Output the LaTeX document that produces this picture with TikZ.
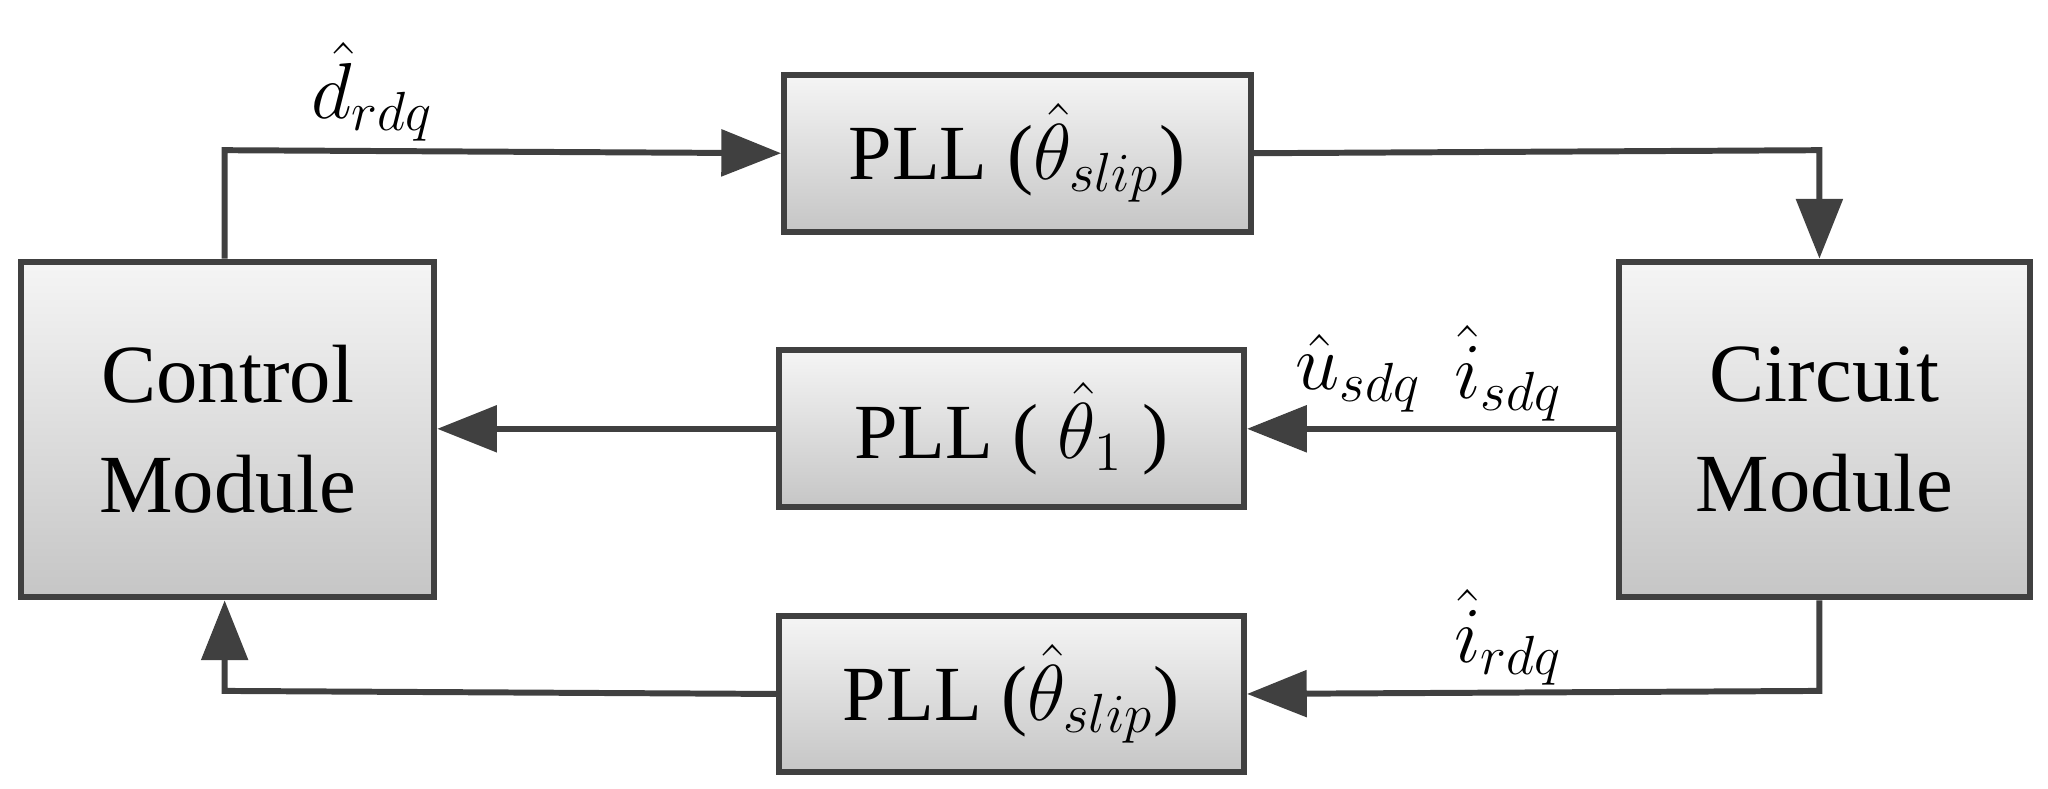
\documentclass[tikz,border=0pt]{standalone}
\usepackage{fontspec}
\setmainfont{Liberation Serif}
\usetikzlibrary{arrows.meta}
\tikzset{
  blk/.style={draw=black!75, line width=1.3pt, top color=gray!8, bottom color=gray!45, inner sep=0pt},
  con/.style={draw=black!75, line width=1.3pt, -{Triangle[length=13pt,width=10pt]}},
  lbl/.style={font=\fontsize{17}{20}\selectfont}
}
\begin{document}
\begin{tikzpicture}[x=0.01cm,y=-0.01cm]
\useasboundingbox (0,0) rectangle (1568,604);

% modules
\node[blk, anchor=north west, minimum width=3.16cm, minimum height=2.57cm, align=center, font=\fontsize{18}{24}\selectfont] (ctrl) at (14,198) {Control\\Module};
\node[blk, anchor=north west, minimum width=3.15cm, minimum height=2.57cm, align=center, font=\fontsize{18}{24}\selectfont] (circ) at (1237,198) {Circuit\\Module};

% PLL blocks
\node[blk, anchor=north west, minimum width=3.57cm, minimum height=1.2cm, lbl] (pllt) at (598,55) {PLL ($\hat{\theta}_{slip}$)};
\node[blk, anchor=north west, minimum width=3.56cm, minimum height=1.2cm, lbl] (pllm) at (594,266) {PLL ( $\hat{\theta}_{1}$ )};
\node[blk, anchor=north west, minimum width=3.56cm, minimum height=1.2cm, lbl] (pllb) at (594,469) {PLL ($\hat{\theta}_{slip}$)};

\coordinate (c1) at (172,115);
\coordinate (c2) at (1393,115);
\coordinate (c3) at (1393,529);
\coordinate (c4) at (172,529);

% connectors
\draw[con] (ctrl.north -| c1) -- (c1) -- (pllt.west);
\draw[con] (pllt.east) -- (c2) -- (circ.north -| c2);
\draw[con] (circ.west |- pllm.east) -- (pllm.east);
\draw[con] (pllm.west) -- (ctrl.east |- pllm.west);
\draw[con] (circ.south -| c3) -- (c3) -- (pllb.east);
\draw[con] (pllb.west) -- (c4) -- (ctrl.south -| c4);

% signal labels
\node[lbl] (d) at (285,70) {$\hat{d}_{rdq}$};
\node[lbl] (u) at (1040,286) {$\hat{u}_{sdq}$};
\node[lbl] (is) at (1155,286) {$\hat{i}_{sdq}$};
\node[lbl] (ir) at (1155,488) {$\hat{i}_{rdq}$};
\end{tikzpicture}
\end{document}
